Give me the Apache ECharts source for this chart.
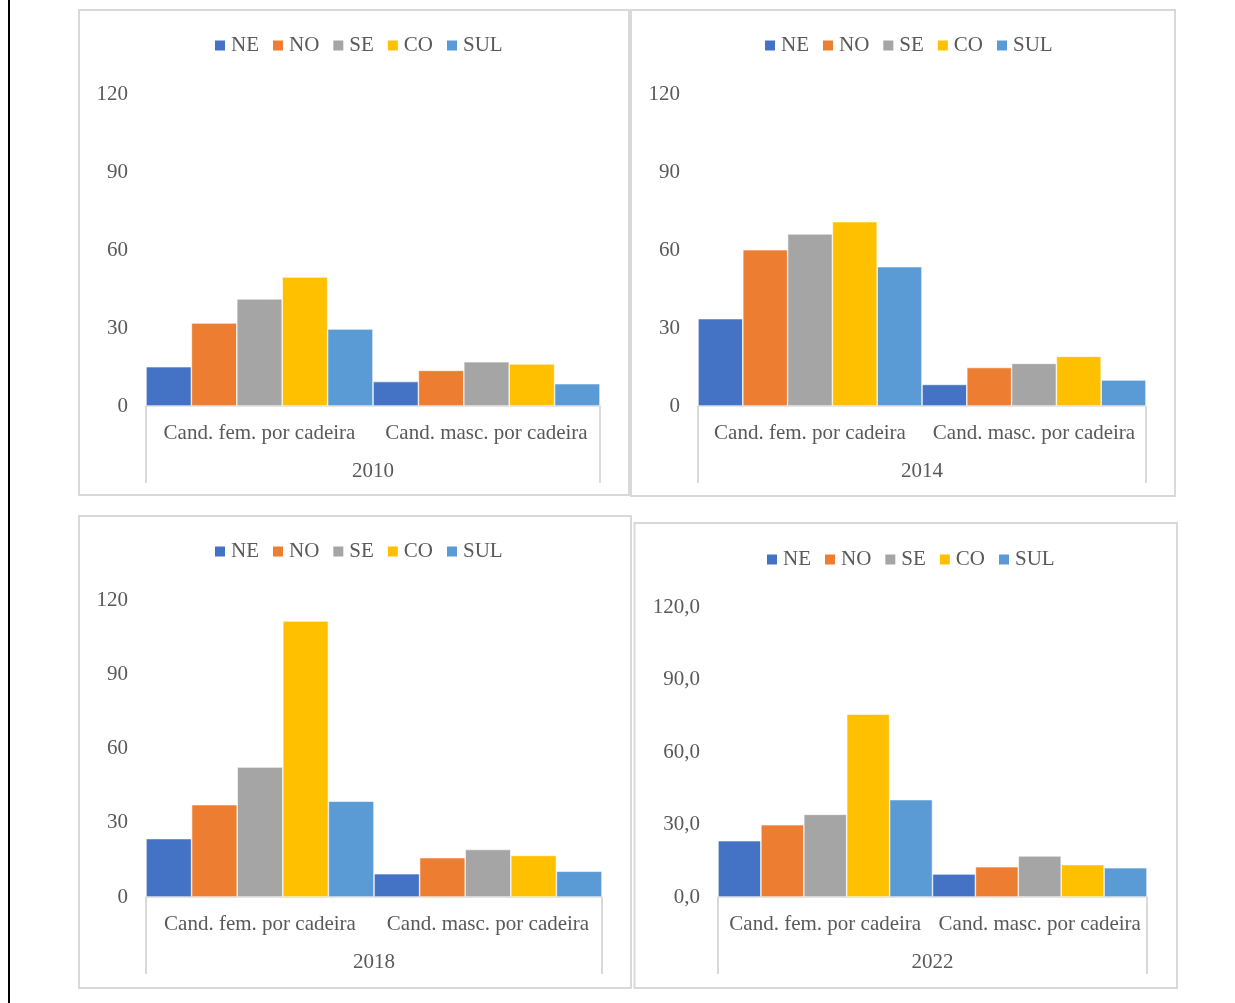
<!DOCTYPE html>
<html>
<head>
<meta charset="utf-8">
<script src="https://cdn.jsdelivr.net/npm/echarts@6/dist/echarts.min.js"></script>
<style>
  html, body { margin: 0; padding: 0; background: #fff; }
  #c { width: 1235px; height: 1003px; }
</style>
</head>
<body>
<div id="c"></div>
<script>
// Regions (legend order) and their colours
const regions = ['NE', 'NO', 'SE', 'CO', 'SUL'];
const regionColors = ['#4472C4', '#ED7D31', '#A5A5A5', '#FFC000', '#5B9BD5'];

// Inner categories shared by every panel
const groups = ['Cand. fem. por cadeira', 'Cand. masc. por cadeira'];

// Candidates per seat, one value per region (NE, NO, SE, CO, SUL)
const fem2010 = [15.1, 31.9, 41.2, 49.6, 29.6];
const masc2010 = [9.4, 13.7, 17.0, 16.2, 8.6];
const fem2014 = [33.6, 60.1, 66.2, 70.9, 53.6];
const masc2014 = [8.3, 14.8, 16.4, 19.1, 10.0];
const fem2018 = [23.6, 37.3, 52.5, 111.5, 38.7];
const masc2018 = [9.4, 15.9, 19.2, 16.8, 10.4];
const fem2022 = [23.3, 29.9, 34.2, 75.6, 40.3];
const masc2022 = [9.5, 12.5, 17.0, 13.4, 12.1];

// Value axis
const yMin = 0, yMax = 120, yStep = 30;

const FONT = "'Liberation Serif', 'Times New Roman', serif";
const TEXT = '#595959';
const LINE = '#d9d9d9';

const panels = [
  { year: '2010', fem: fem2010, masc: masc2010, decimals: false,
    grid: { left: 146, top: 94, width: 454, height: 312 },
    legend: { left: 213, top: 35 },
    frame: { x: 79, y: 10, width: 550, height: 485 } },
  { year: '2014', fem: fem2014, masc: masc2014, decimals: false,
    grid: { left: 698, top: 94, width: 448, height: 312 },
    legend: { left: 763, top: 35 },
    frame: { x: 631, y: 10, width: 544, height: 486 } },
  { year: '2018', fem: fem2018, masc: masc2018, decimals: false,
    grid: { left: 146, top: 600, width: 456, height: 297 },
    legend: { left: 213, top: 541 },
    frame: { x: 79, y: 516, width: 552, height: 472 } },
  { year: '2022', fem: fem2022, masc: masc2022, decimals: true,
    grid: { left: 718, top: 607, width: 429, height: 290 },
    legend: { left: 765, top: 549 },
    frame: { x: 634.5, y: 523, width: 542.5, height: 465 } }
];

const grids = [], xAxes = [], yAxes = [], legends = [], series = [], graphics = [];

// Thin black rule along the left edge of the page
graphics.push({
  type: 'rect', shape: { x: 8, y: 0, width: 2, height: 1003 },
  style: { fill: '#000' }, silent: true
});

panels.forEach((p, k) => {
  grids.push(Object.assign({ containLabel: false }, p.grid));

  // Panel frame
  graphics.push({
    type: 'rect', shape: p.frame,
    style: { fill: 'none', stroke: LINE, lineWidth: 2 }, silent: true
  });

  // Inner category axis (fem / masc)
  xAxes.push({
    type: 'category', gridIndex: k, position: 'bottom', data: groups,
    axisLine: { show: true, lineStyle: { color: LINE, width: 1.5 } },
    axisTick: { show: false },
    axisLabel: { interval: 0, hideOverlap: false, margin: 17, fontSize: 21, color: TEXT, fontFamily: FONT },
    splitLine: { show: false }
  });
  // Outer category axis (election year) with bracket ticks at both ends
  xAxes.push({
    type: 'category', gridIndex: k, position: 'bottom', data: [p.year],
    axisLine: { show: false },
    axisTick: { show: true, length: 77, lineStyle: { color: LINE, width: 2 } },
    axisLabel: { interval: 0, margin: 55, fontSize: 21, color: TEXT, fontFamily: FONT },
    splitLine: { show: false }
  });

  yAxes.push({
    type: 'value', gridIndex: k, min: yMin, max: yMax, interval: yStep,
    axisLine: { show: false }, axisTick: { show: false },
    splitLine: { show: false },
    axisLabel: {
      margin: 18, fontSize: 21, color: TEXT, fontFamily: FONT,
      padding: [5, 0, 0, 0],
      formatter: v => p.decimals ? v.toFixed(1).replace('.', ',') : String(v)
    }
  });

  legends.push({
    left: p.legend.left, top: p.legend.top, orient: 'horizontal', padding: 0,
    data: regions, icon: 'rect', itemWidth: 12, itemHeight: 12, itemGap: 12,
    selectedMode: false,
    textStyle: { fontSize: 21, color: TEXT, fontFamily: FONT }
  });

  regions.forEach((r, i) => {
    series.push({
      type: 'bar', name: r,
      xAxisIndex: 2 * k, yAxisIndex: k,
      data: [p.fem[i], p.masc[i]],
      barGap: '0%', barCategoryGap: '0%',
      itemStyle: { color: regionColors[i], borderColor: '#ffffff', borderWidth: 0.6 }
    });
  });
});

const chart = echarts.init(document.getElementById('c'), null, { renderer: 'canvas' });
chart.setOption({
  animation: false,
  backgroundColor: '#ffffff',
  color: regionColors,
  grid: grids,
  xAxis: xAxes,
  yAxis: yAxes,
  legend: legends,
  series: series,
  graphic: graphics
});
</script>
</body>
</html>
